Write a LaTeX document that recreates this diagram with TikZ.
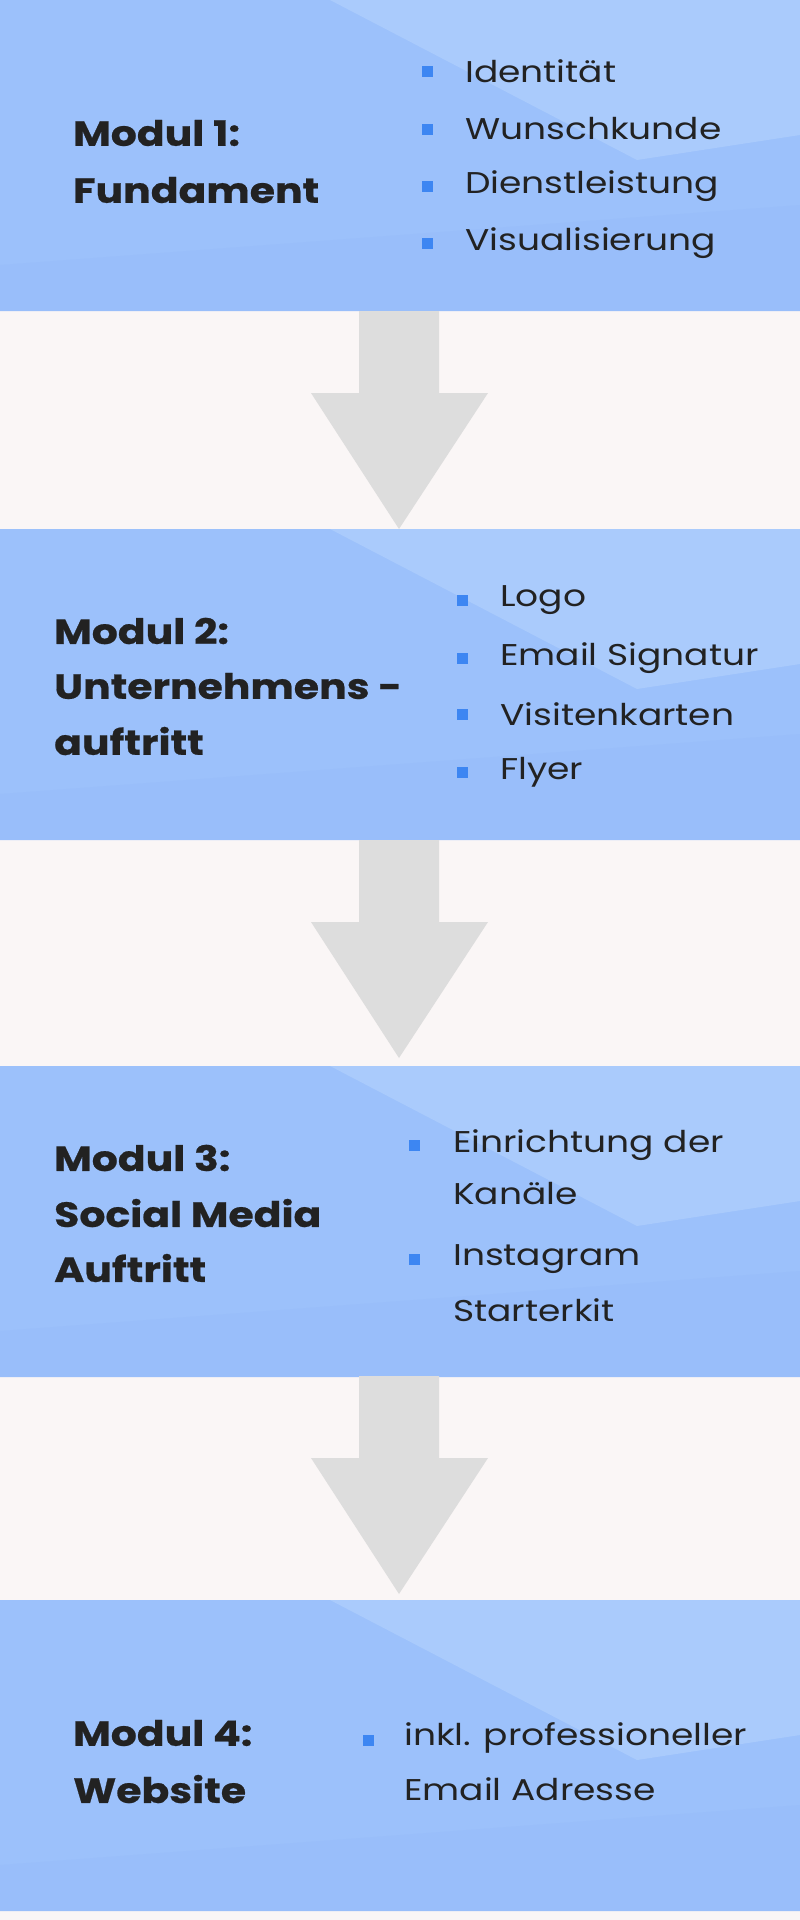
\documentclass[tikz,border=0pt]{standalone}
\usepackage{fontspec}
\setmainfont{Poppins}[FakeStretch=1.2]
\newfontfamily\ttlfont{Poppins}[FakeStretch=1.17,FakeBold=0.6]
\definecolor{bandc}{HTML}{9CC1FB}
\definecolor{bandl}{HTML}{AACBFC}
\definecolor{bandd}{HTML}{99BEFA}
\definecolor{bgc}{HTML}{FAF6F6}
\definecolor{arrc}{HTML}{DDDDDD}
\definecolor{bulc}{HTML}{3D86F2}
\definecolor{txtc}{HTML}{222222}
\tikzset{
  ttl/.style={anchor=west,font=\ttlfont\fontsize{35}{42}\selectfont\bfseries,text=txtc,inner sep=0},
  itm/.style={anchor=west,font=\fontsize{30}{35}\selectfont,text=txtc,inner sep=0},
  bul/.style={fill=bulc,minimum size=11pt,inner sep=0,anchor=center},
}
\begin{document}
\begin{tikzpicture}[x=1pt,y=-1pt]
\fill[bgc] (0,0) rectangle (800,1920);
\useasboundingbox (0,0) rectangle (800,1920);
\foreach \t in {0,529,1066,1600}{
  \fill[bandc] (0,\t) rectangle (800,\t+311);
  \fill[bandl] (330,\t) -- (800,\t) -- (800,\t+135) -- (637,\t+160) -- cycle;
  \fill[bandd] (0,\t+265) -- (800,\t+205) -- (800,\t+311) -- (0,\t+311) -- cycle;
}
\foreach \t in {311,840,1376}{
  \fill[arrc] (359,\t) -- (439,\t) -- (439,\t+82) -- (488,\t+82) -- (399,\t+218) -- (311,\t+82) -- (359,\t+82) -- cycle;
}
\node[ttl] (t1a) at (73,133) {Modul 1:};
\node[ttl] (t1b) at (73,190) {Fundament};
\foreach \y/\s/\n in {71/Identität/a,129/Wunschkunde/b,186/Dienstleistung/c,243/Visualisierung/d}{
  \node[bul] (b1\n) at (427,\y) {};
  \node[itm] (i1\n) at (465,\y) {\s};
}
\node[ttl] (t2a) at (54,631) {Modul 2:};
\node[ttl] (t2b) at (54,686) {Unternehmens -};
\node[ttl] (t2c) at (54,741) {auftritt};
\foreach \y/\s/\n in {600/Logo/a,658/Email Signatur/b,714/Visitenkarten/c,772/Flyer/d}{
  \node[bul] (b2\n) at (462,\y) {};
  \node[itm] (i2\n) at (500,\y) {\s};
}
\node[ttl] (t3a) at (54,1158) {Modul 3:};
\node[ttl] (t3b) at (54,1213) {Social Media};
\node[ttl] (t3c) at (54,1268) {Auftritt};
\node[bul] (b3a) at (414,1145) {};
\node[itm] (i3a) at (453,1145) {Einrichtung der};
\node[itm] (i3b) at (453,1194) {Kanäle};
\node[bul] (b3b) at (414,1259) {};
\node[itm] (i3c) at (453,1259) {Instagram};
\node[itm] (i3d) at (453,1310) {Starterkit};
\node[ttl] (t4a) at (73,1733) {Modul 4:};
\node[ttl] (t4b) at (73,1789) {Website};
\node[bul] (b4a) at (368,1740) {};
\node[itm] (i4a) at (404,1738) {inkl. professioneller};
\node[itm] (i4b) at (404,1789) {Email Adresse};
\end{tikzpicture}
\end{document}
